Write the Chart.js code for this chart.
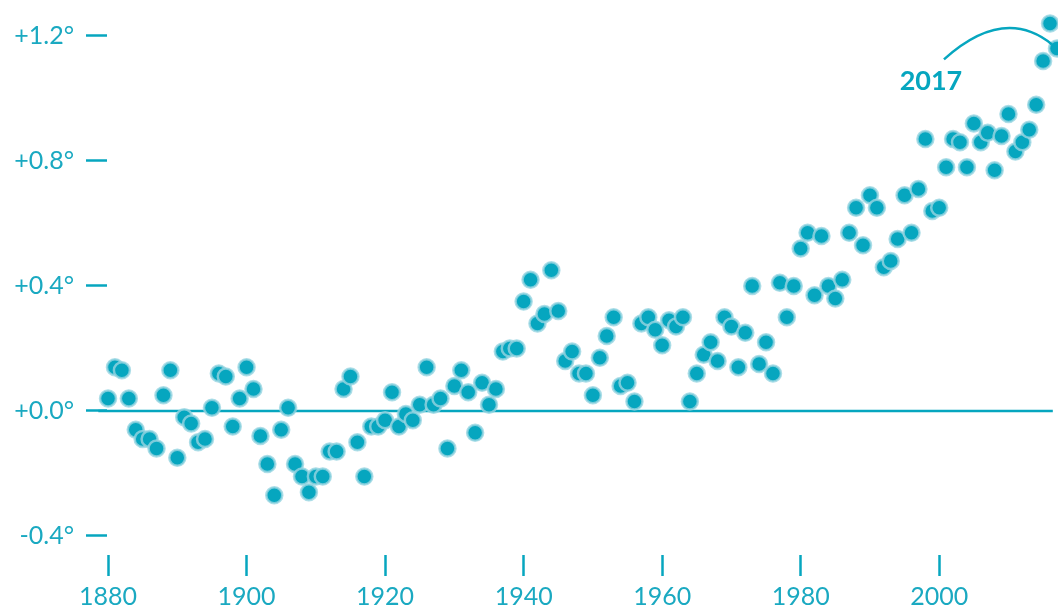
<!DOCTYPE html>
<html>
<head>
<meta charset="utf-8">
<script src="https://cdn.jsdelivr.net/npm/chart.js@4/dist/chart.umd.min.js"></script>
<style>
    html, body { margin: 0; padding: 0; background: #fff; }
</style>
</head>
<body>
<canvas id="temps" width="1058" height="608"></canvas>
<script>
const firstYear = 1880;
const anomalies = [
    0.04, 0.14, 0.13, 0.04, -0.06, -0.09, -0.09, -0.12, 0.05, 0.13,
    -0.15, -0.02, -0.04, -0.10, -0.09, 0.01, 0.12, 0.11, -0.05, 0.04,
    0.14, 0.07, -0.08, -0.17, -0.27, -0.06, 0.01, -0.17, -0.21, -0.26,
    -0.21, -0.21, -0.13, -0.13, 0.07, 0.11, -0.10, -0.21, -0.05, -0.05,
    -0.03, 0.06, -0.05, -0.01, -0.03, 0.02, 0.14, 0.02, 0.04, -0.12,
    0.08, 0.13, 0.06, -0.07, 0.09, 0.02, 0.07, 0.19, 0.20, 0.20,
    0.35, 0.42, 0.28, 0.31, 0.45, 0.32, 0.16, 0.19, 0.12, 0.12,
    0.05, 0.17, 0.24, 0.30, 0.08, 0.09, 0.03, 0.28, 0.30, 0.26,
    0.21, 0.29, 0.27, 0.30, 0.03, 0.12, 0.18, 0.22, 0.16, 0.30,
    0.27, 0.14, 0.25, 0.40, 0.15, 0.22, 0.12, 0.41, 0.30, 0.40,
    0.52, 0.57, 0.37, 0.56, 0.40, 0.36, 0.42, 0.57, 0.65, 0.53,
    0.69, 0.65, 0.46, 0.48, 0.55, 0.69, 0.57, 0.71, 0.87, 0.64,
    0.65, 0.78, 0.87, 0.86, 0.78, 0.92, 0.86, 0.89, 0.77, 0.88,
    0.95, 0.83, 0.86, 0.90, 0.98, 1.12, 1.24, 1.16
];
const years = anomalies.map((v, i) => firstYear + i);
const yTicks = [-0.4, 0.0, 0.4, 0.8, 1.2];
const xTicks = [1880, 1900, 1920, 1940, 1960, 1980, 2000];
const baselineYears = [1878.6, 2016.4];
const highlightYear = 2017;

const teal = '#06a6bf';
const tealText = '#1aa9c1';

const formatDeg = (v) => (v < 0 ? '-' : '+') + Math.abs(v).toFixed(1) + '°';

// arc + bold year label pointing at the last point
const calloutPlugin = {
    id: 'callout',
    afterDatasetsDraw(chart) {
        const ctx = chart.ctx;
        const xs = chart.scales.x, ys = chart.scales.y;
        const idx = years.indexOf(highlightYear);
        const px = xs.getPixelForValue(highlightYear);
        const py = ys.getPixelForValue(anomalies[idx]);
        ctx.save();
        ctx.strokeStyle = teal;
        ctx.lineWidth = 2.5;
        ctx.beginPath();
        ctx.moveTo(px - 113, py + 11);
        ctx.quadraticCurveTo(px - 53, py - 43, px - 5, py - 4);
        ctx.stroke();
        ctx.fillStyle = teal;
        ctx.font = 'bold 27px Lato';
        ctx.textAlign = 'center';
        ctx.textBaseline = 'middle';
        ctx.fillText(String(highlightYear), px - 126, py + 33);
        ctx.restore();
    }
};

const ctx = document.getElementById('temps').getContext('2d');

new Chart(ctx, {
    type: 'scatter',
    data: {
        datasets: [
            {
                label: 'Anomaly',
                data: years.map((yr, i) => ({ x: yr, y: anomalies[i] })),
                backgroundColor: teal,
                borderColor: 'rgba(150, 212, 225, 0.8)',
                borderWidth: 2.5,
                pointRadius: 8,
                pointHoverRadius: 8,
                clip: false,
                order: 1
            },
            {
                type: 'line',
                label: 'Baseline',
                data: baselineYears.map(yr => ({ x: yr, y: 0 })),
                borderColor: teal,
                borderWidth: 2.5,
                pointRadius: 0,
                clip: false,
                order: 2
            }
        ]
    },
    options: {
        responsive: false,
        animation: false,
        layout: { padding: 0, autoPadding: false },
        plugins: {
            legend: { display: false },
            tooltip: { enabled: false }
        },
        scales: {
            x: {
                type: 'linear',
                min: 1879.85,
                max: 2017.15,
                afterBuildTicks: (scale) => { scale.ticks = xTicks.map(v => ({ value: v })); },
                afterFit: (scale) => {
                    scale.height = 53;
                    scale.paddingLeft = 0;
                    scale.paddingRight = 0;
                },
                border: { display: false },
                grid: {
                    drawOnChartArea: false,
                    drawTicks: true,
                    tickLength: 21,
                    tickWidth: 2.5,
                    tickColor: teal
                },
                ticks: {
                    color: tealText,
                    padding: 6,
                    maxRotation: 0,
                    font: { family: 'Lato', size: 25 },
                    callback: (v) => String(v)
                }
            },
            y: {
                min: -0.461,
                max: 1.315,
                afterBuildTicks: (scale) => { scale.ticks = yTicks.map(v => ({ value: v })); },
                afterFit: (scale) => {
                    scale.width = 107;
                    scale.paddingTop = 0;
                    scale.paddingBottom = 0;
                },
                border: { display: false },
                grid: {
                    drawOnChartArea: false,
                    drawTicks: true,
                    tickLength: 21,
                    tickWidth: 2.5,
                    tickColor: teal
                },
                ticks: {
                    color: tealText,
                    padding: 12,
                    font: { family: 'Lato', size: 25 },
                    callback: (v) => formatDeg(v)
                }
            }
        }
    },
    plugins: [calloutPlugin]
});
</script>
</body>
</html>
